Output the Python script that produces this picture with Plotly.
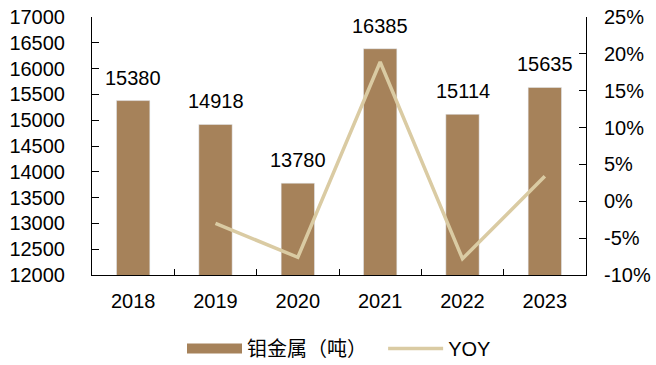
import plotly.graph_objects as go

years = ["2018", "2019", "2020", "2021", "2022", "2023"]
output_t = [15380, 14918, 13780, 16385, 15114, 15635]
yoy_years = ["2019", "2020", "2021", "2022", "2023"]
yoy_pct = [-3.0, -7.6, 18.9, -7.8, 3.4]
pct_ticks = [-10, -5, 0, 5, 10, 15, 20, 25]

BAR_COLOR = "#A6825A"
LINE_COLOR = "#DACBA3"
FONT = "Liberation Sans, Arial, Noto Sans CJK SC"

fig = go.Figure()

fig.add_trace(go.Bar(
    x=years, y=output_t, marker_color=BAR_COLOR, width=0.405,
    showlegend=False, yaxis="y",
))
fig.add_trace(go.Scatter(
    x=yoy_years, y=yoy_pct, mode="lines",
    line=dict(color=LINE_COLOR, width=3.5), showlegend=False, yaxis="y2",
))

# legend entries (wide swatch for the bars)
fig.add_trace(go.Scatter(
    x=[years[0]], y=[None], mode="lines", name="钼金属（吨）  ",
    line=dict(color=BAR_COLOR, width=10),
))
fig.add_trace(go.Scatter(
    x=[years[0]], y=[None], mode="lines", name="YOY",
    line=dict(color=LINE_COLOR, width=3.5), yaxis="y2",
))

# value labels above each bar
for i, v in enumerate(output_t):
    fig.add_annotation(x=i, y=v, xref="x", yref="y", text=str(v),
                       showarrow=False, yanchor="bottom", yshift=10,
                       font=dict(size=20, color="#000", family=FONT))

fig.update_layout(
    width=656, height=365,
    margin=dict(l=92, r=70, t=17, b=90, autoexpand=False),
    plot_bgcolor="white", paper_bgcolor="white",
    font=dict(family=FONT, size=20, color="#000"),
    xaxis=dict(
        type="category", categoryorder="array", categoryarray=years,
        range=[-0.5, len(years) - 0.5],
        showline=True, linecolor="#000", linewidth=1,
        ticks="inside", tickson="boundaries", ticklen=6, tickcolor="#000",
        tickfont=dict(size=20), showgrid=False, ticklabelstandoff=8,
    ),
    yaxis=dict(
        range=[12000, 17000], dtick=500, tickformat="d", showline=True,
        linecolor="#000", linewidth=1, ticks="inside", ticklen=7,
        tickcolor="#000", showgrid=False, zeroline=False,
        tickfont=dict(size=20), ticklabelstandoff=22,
    ),
    yaxis2=dict(
        range=[-10, 25], tickvals=pct_ticks,
        ticktext=[f"{t}%" for t in pct_ticks], overlaying="y", side="right",
        showline=True, linecolor="#000", linewidth=1, ticks="inside",
        ticklen=7, tickcolor="#000", showgrid=False,
        zeroline=False, tickfont=dict(size=20), ticklabelstandoff=13,
    ),
    legend=dict(orientation="h", x=0.5, xanchor="center", y=-0.285,
                yanchor="middle", font=dict(size=20), itemwidth=55,
                traceorder="normal"),
    bargap=0.45,
)

fig.write_html("out.html")
